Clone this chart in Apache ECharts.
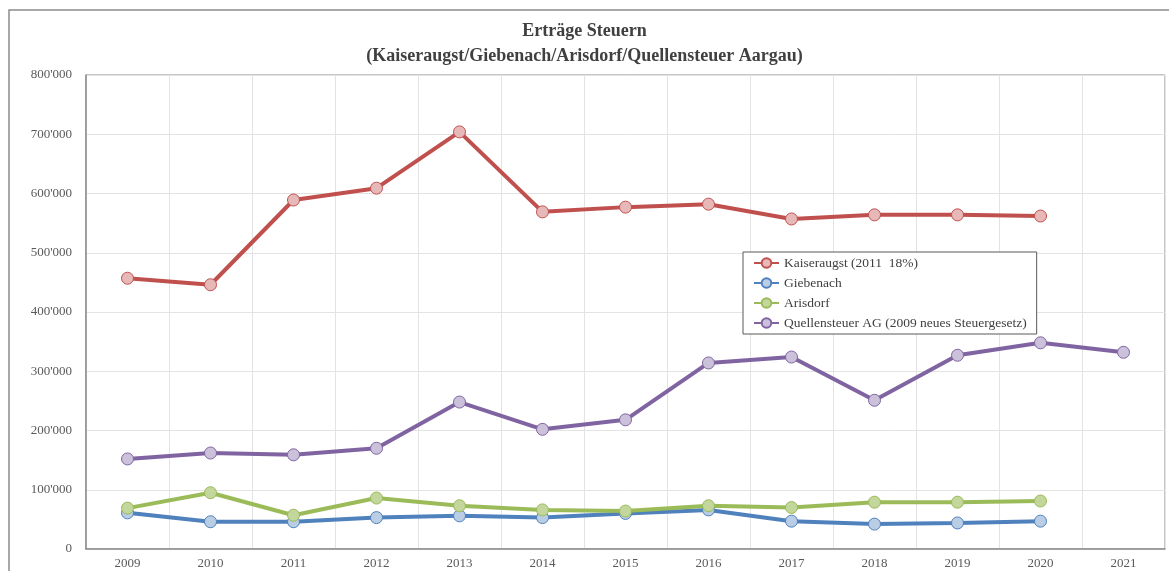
<!DOCTYPE html>
<html>
<head>
<meta charset="utf-8">
<script src="https://cdn.jsdelivr.net/npm/echarts@6/dist/echarts.min.js"></script>
<style>
  html, body { margin: 0; padding: 0; background: #fff; }
  #main { width: 1169px; height: 571px; }
</style>
</head>
<body>
<div id="main"></div>
<script>
const years = ['2009', '2010', '2011', '2012', '2013', '2014', '2015', '2016', '2017', '2018', '2019', '2020', '2021'];
const kaiseraugst = [457000, 446000, 589000, 609000, 704000, 569000, 577000, 582000, 557000, 564000, 564000, 562000, null];
const giebenach = [61000, 46000, 46000, 53000, 56000, 53000, 60000, 66000, 47000, 42000, 44000, 47000, null];
const arisdorf = [69000, 95000, 57000, 86000, 73000, 66000, 64000, 73000, 70000, 79000, 79000, 81000, null];
const quellensteuer = [152000, 162000, 159000, 170000, 248000, 202000, 218000, 314000, 324000, 251000, 327000, 348000, 332000];

const serif = '"Liberation Serif", "DejaVu Serif", serif';

function fmt(v) {
    return String(v).replace(/\B(?=(\d{3})+(?!\d))/g, "'");
}

function mkSeries(name, data, line, fill) {
    return {
        name: name,
        type: 'line',
        data: data,
        symbol: 'circle',
        symbolSize: 12,
        lineStyle: { width: 4, color: line },
        itemStyle: { color: fill, borderColor: line, borderWidth: 1 },
        emphasis: { disabled: true },
        animation: false
    };
}

const chart = echarts.init(document.getElementById('main'));
chart.setOption({
    backgroundColor: '#fff',
    title: {
        text: 'Erträge Steuern\n(Kaiseraugst/Giebenach/Arisdorf/Quellensteuer Aargau)',
        left: 'center',
        top: 14,
        textStyle: { fontFamily: serif, fontSize: 18, fontWeight: 'bold', color: '#404040', lineHeight: 25 }
    },
    graphic: [{
        type: 'rect',
        shape: { x: 9, y: 10, width: 1200, height: 600 },
        style: { fill: 'none', stroke: '#8c8c8c', lineWidth: 1.5 },
        silent: true
    }],
    legend: {
        orient: 'vertical',
        left: 743,
        top: 252,
        itemWidth: 25,
        itemHeight: 12,
        itemGap: 6,
        padding: [4, 10, 4, 10],
        backgroundColor: '#fff',
        borderColor: '#595959',
        borderWidth: 1,
        textStyle: { fontFamily: serif, fontSize: 13.5, color: '#404040' },
        data: ['Kaiseraugst (2011  18%)', 'Giebenach', 'Arisdorf', 'Quellensteuer AG (2009 neues Steuergesetz)']
    },
    grid: { left: 86, top: 75, right: 4, bottom: 22, show: true, borderColor: '#8c8c8c', borderWidth: 1 },
    xAxis: {
        type: 'category',
        data: years,
        boundaryGap: true,
        axisLine: { lineStyle: { color: '#8c8c8c', width: 1.5 } },
        axisTick: { show: false },
        axisLabel: { fontFamily: serif, fontSize: 13, color: '#595959', margin: 8 },
        splitLine: { show: true, interval: 0, lineStyle: { color: '#e3e3e3' } }
    },
    yAxis: {
        type: 'value',
        min: 0,
        max: 800000,
        interval: 100000,
        axisLine: { show: true, lineStyle: { color: '#8c8c8c', width: 1.5 } },
        axisTick: { show: false },
        axisLabel: { fontFamily: serif, fontSize: 13, color: '#595959', margin: 14, formatter: fmt },
        splitLine: { lineStyle: { color: '#e3e3e3' } }
    },
    series: [
        mkSeries('Kaiseraugst (2011  18%)', kaiseraugst, '#c0504d', '#e6b9b8'),
        mkSeries('Giebenach', giebenach, '#4f81bd', '#b9cde5'),
        mkSeries('Arisdorf', arisdorf, '#9bbb59', '#c3d69b'),
        mkSeries('Quellensteuer AG (2009 neues Steuergesetz)', quellensteuer, '#8064a2', '#ccc1da')
    ]
});
</script>
</body>
</html>
